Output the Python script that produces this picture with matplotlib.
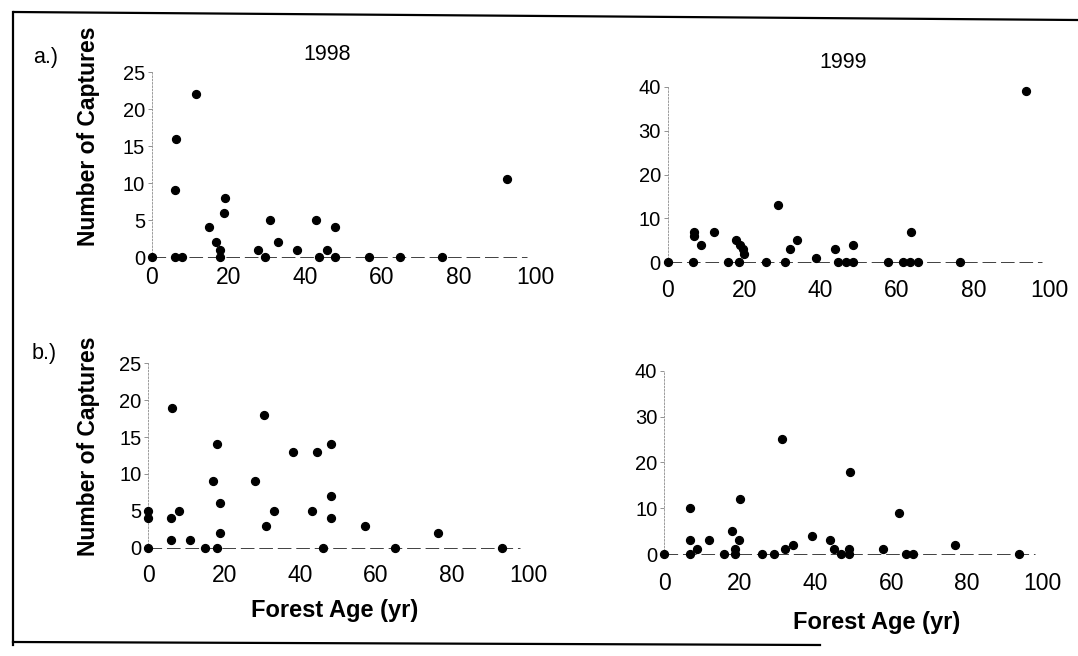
import matplotlib
matplotlib.use('Agg')
import matplotlib.pyplot as plt
from matplotlib.lines import Line2D

plt.rcParams['font.family'] = ['Liberation Sans', 'DejaVu Sans']

W, H = 1078, 656

# a.) 1998
a98_age = [0, 5.9, 7.8, 6.3, 6.1, 11.4, 14.9, 16.8, 17.7, 17.7, 19, 18.9, 27.7, 29.6,
           30.9, 32.9, 37.8, 42.9, 43.7, 45.7, 47.7, 47.7, 56.6, 64.8, 75.6, 92.6]
a98_cap = [0, 0, 0, 16, 9, 22, 4, 2, 1, 0, 8, 6, 1, 0, 5, 2, 1, 5, 0, 1, 4, 0, 0, 0, 0, 10.5]

# a.) 1999
a99_age = [0, 6.7, 6.9, 6.9, 8.8, 12.0, 15.9, 17.9, 18.7, 18.9, 19.8, 20.0, 25.7, 29.0,
           30.7, 31.9, 33.8, 38.9, 43.8, 44.7, 46.6, 48.6, 48.6, 57.6, 61.6, 63.5, 63.7,
           65.4, 76.4, 93.9]
a99_cap = [0, 0, 7, 6, 4, 7, 0, 5, 0, 4, 3, 2, 0, 13, 0, 3, 5, 1, 3, 0, 0, 0, 4, 0, 0,
           0, 7, 0, 0, 39]

# b.) 1998
b98_age = [0, 0, 0, 6, 6, 6.2, 8, 10.9, 15, 18, 17.1, 18.2, 19, 18.9, 28.2, 30.4, 31,
           33.1, 38.2, 43.2, 44.4, 46.1, 48.2, 48.2, 48.1, 57.1, 65.1, 76.2, 93.2]
b98_cap = [0, 5, 4, 1, 4, 19, 5, 1, 0, 0, 9, 14, 6, 2, 9, 18, 3, 5, 13, 5, 13, 0, 14, 7,
           4, 3, 0, 2, 0]

# b.) 1999
b99_age = [0, 6.9, 6.9, 6.9, 8.7, 11.7, 15.8, 17.9, 18.8, 18.8, 19.8, 20.0, 25.8, 28.9,
           31.2, 31.9, 33.9, 39.0, 43.9, 44.8, 46.8, 48.9, 48.9, 49.2, 57.9, 61.9, 63.8,
           65.8, 76.8, 93.8]
b99_cap = [0, 0, 3, 10, 1, 3, 0, 5, 1, 0, 3, 12, 0, 0, 25, 1, 2, 4, 3, 1, 0, 1, 0, 18,
           1, 9, 0, 0, 2, 0]

x_ticks = [0, 20, 40, 60, 80, 100]
y_ticks_98 = [0, 5, 10, 15, 20, 25]
y_ticks_99 = [0, 10, 20, 30, 40]


def px_rect(l, r, t, b):
    return [l / W, 1 - b / H, (r - l) / W, (b - t) / H]


fig = plt.figure(figsize=(W / 100, H / 100), dpi=100)

panels = [
    (a98_age, a98_cap, px_rect(152, 535, 72, 264.4), (-1, 25), y_ticks_98, 1.5),
    (a99_age, a99_cap, px_rect(667.7, 1049.7, 86.7, 268.9), (-1.5, 40), y_ticks_99, 7),
    (b98_age, b98_cap, px_rect(148.3, 528, 363.3, 555.1), (-1, 25), y_ticks_98, 6.5),
    (b99_age, b99_cap, px_rect(664.3, 1042.7, 370.7, 560.9), (-1.5, 40), y_ticks_99, 8),
]

for age, cap, rect, ylim, yticks, xpad in panels:
    ax = fig.add_axes(rect)
    ax.set_xlim(0, 100)
    ax.set_ylim(*ylim)
    ax.hlines(0, 0, 98, color='0.25', lw=0.7, ls=(0, (14, 5)))
    ax.scatter(age, cap, s=32, color='black', zorder=3, clip_on=False)
    for side in ['top', 'right', 'bottom']:
        ax.spines[side].set_visible(False)
    ax.spines['left'].set_color('0.55')
    ax.spines['left'].set_linewidth(0.6)
    ax.spines['left'].set_linestyle((0, (2, 2)))
    ax.spines['left'].set_bounds(0, yticks[-1])
    ax.set_xticks(x_ticks)
    ax.set_yticks(yticks)
    ax.tick_params(axis='x', length=0, pad=xpad, labelsize=16.5)
    ax.tick_params(axis='y', length=3, width=0.6, color='0.5', pad=2, labelsize=14.5)
    ax.patch.set_alpha(0)


def ftext(x, y, s, **kw):
    fig.text(x / W, 1 - y / H, s, ha='center', va='center', **kw)


ftext(46, 57, 'a.)', fontsize=15.5)
ftext(44, 354, 'b.)', fontsize=15.5)
ftext(327, 55, '1998', fontsize=15.5)
ftext(843, 63, '1999', fontsize=15.5)
ftext(89, 136, 'Number of Captures', fontsize=16.5, fontweight='bold', rotation=90)
ftext(88, 446, 'Number of Captures', fontsize=16.5, fontweight='bold', rotation=90)
ftext(335, 610, 'Forest Age (yr)', fontsize=17, fontweight='bold')
ftext(877, 622, 'Forest Age (yr)', fontsize=17, fontweight='bold')

# scanned page frame
def fline(xs, ys):
    fig.add_artist(Line2D([x / W for x in xs], [1 - y / H for y in ys],
                          color='black', lw=1.6))


fline([14, 1078], [12, 20])
fline([13, 13], [12, 645])
fline([13, 820], [642, 645])

fig.savefig('out.png', dpi=100)
